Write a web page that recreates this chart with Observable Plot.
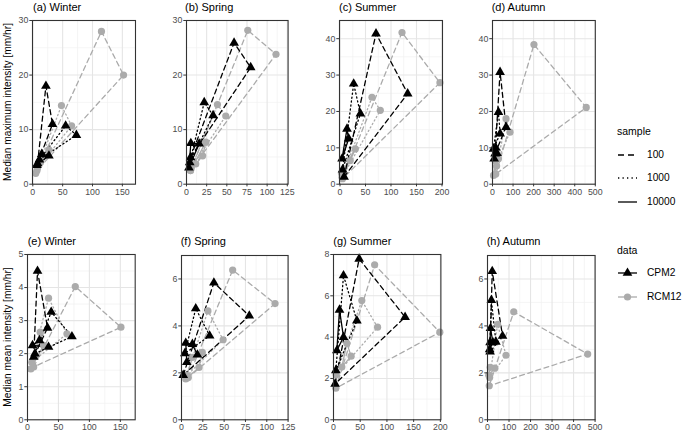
<!DOCTYPE html>
<html><head><meta charset="utf-8">
<script src="https://cdn.jsdelivr.net/npm/d3@7"></script>
<script src="https://cdn.jsdelivr.net/npm/@observablehq/plot@0.6"></script>
<style>
body{margin:0;background:#fff;}
#root{position:relative;width:685px;height:435px;font-family:"Liberation Sans",Arial,Helvetica,sans-serif;overflow:hidden;background:#fff;}
.ptitle{position:absolute;font-size:11px;color:#000;white-space:nowrap;line-height:11px;}
.ytitle{position:absolute;font-size:10.2px;color:#000;white-space:nowrap;line-height:10px;transform:translate(-50%,-50%) rotate(-90deg);}
.lg{position:absolute;white-space:nowrap;color:#000;}
svg.panel{position:absolute;overflow:visible;}
</style></head><body><div id="root"></div>
<script>
// ---- data: rows are [data, sample, x, y] ----
const winterMax = [
  ["CPM2",100,8,3.8],["CPM2",100,22,18],["CPM2",100,33,11],
  ["CPM2",1000,11,4.5],["CPM2",1000,55,10.7],["CPM2",1000,73,9],
  ["CPM2",10000,7,3.5],["CPM2",10000,15,5.5],["CPM2",10000,27,5.2],
  ["RCM12",100,7,2.5],["RCM12",100,115,28],["RCM12",100,152,20],
  ["RCM12",1000,8,3],["RCM12",1000,48,14.4],["RCM12",1000,65,10.7],
  ["RCM12",10000,5,2],["RCM12",10000,13,4],["RCM12",10000,27,6.3]
];
const springMax = [
  ["CPM2",100,5,4.9],["CPM2",100,59,25.9],["CPM2",100,79.6,21.4],
  ["CPM2",1000,4,4],["CPM2",1000,22,15],["CPM2",1000,33,12.6],
  ["CPM2",10000,3,3],["CPM2",10000,5.4,7.5],["CPM2",10000,15.7,7.4],
  ["RCM12",100,5,2.5],["RCM12",100,76,28.2],["RCM12",100,111,23.8],
  ["RCM12",1000,6,3],["RCM12",1000,38.4,14.6],["RCM12",1000,48.7,12.5],
  ["RCM12",10000,5,2.5],["RCM12",10000,24,7.7],["RCM12",10000,20,5.2],["RCM12",10000,11.5,3.7]
];
const summerMax = [
  ["CPM2",100,8,2],["CPM2",100,70.6,41.4],["CPM2",100,132.7,24.9],
  ["CPM2",1000,5,4],["CPM2",1000,26.8,27.6],["CPM2",1000,40,19.4],
  ["CPM2",10000,4,7],["CPM2",10000,13.7,15.2],["CPM2",10000,17,12.5],
  ["RCM12",100,5,1.5],["RCM12",100,121.6,41.7],["RCM12",100,196,27.9],
  ["RCM12",1000,4,1.9],["RCM12",1000,62.7,23.9],["RCM12",1000,79,20.3],
  ["RCM12",10000,3,3],["RCM12",10000,30,9.7],["RCM12",10000,20,6.5]
];
const autumnMax = [
  ["CPM2",100,12.6,8.4],["CPM2",100,36.8,30.8],["CPM2",100,66,15.7],
  ["CPM2",1000,4.8,9.7],["CPM2",1000,29,19.8],["CPM2",1000,37,13.9],
  ["CPM2",10000,8,7],["CPM2",10000,16,10],["CPM2",10000,22,8.5],
  ["RCM12",100,16,2.8],["RCM12",100,201.6,38.4],["RCM12",100,456,21.1],
  ["RCM12",1000,29,7],["RCM12",1000,66,18],["RCM12",1000,85,14.3],
  ["RCM12",10000,5,2.4],["RCM12",10000,12.6,6.5],["RCM12",10000,20,5]
];
const winterMean = [
  ["CPM2",100,10,1.9],["CPM2",100,16.2,4.5],["CPM2",100,32.4,2.78],
  ["CPM2",1000,12,2.0],["CPM2",1000,38.3,3.26],["CPM2",1000,71.8,2.52],
  ["CPM2",10000,8.1,2.25],["CPM2",10000,19.4,2.4],["CPM2",10000,34,2.2],
  ["RCM12",100,10,1.6],["RCM12",100,77.2,4.03],["RCM12",100,151,2.8],
  ["RCM12",1000,7,1.74],["RCM12",1000,34,3.68],["RCM12",1000,63.7,2.6],
  ["RCM12",10000,5.4,1.54],["RCM12",10000,20.5,2.65],["RCM12",10000,26,2.25]
];
const springMean = [
  ["CPM2",100,2,1.9],["CPM2",100,38,5.84],["CPM2",100,79.5,4.43],
  ["CPM2",1000,3.9,2.83],["CPM2",1000,16.7,4.74],["CPM2",1000,33,3.58],
  ["CPM2",10000,6.2,2.45],["CPM2",10000,5,3.27],["CPM2",10000,12.8,3.22],["CPM2",10000,18.6,2.77],
  ["RCM12",100,8,1.8],["RCM12",100,60,6.38],["RCM12",100,109.7,4.95],
  ["RCM12",1000,6,1.88],["RCM12",1000,31,4.64],["RCM12",1000,48.8,3.41],
  ["RCM12",10000,5,1.74],["RCM12",10000,12.8,2.66],["RCM12",10000,24.4,2.87],["RCM12",10000,20.5,2.23]
];
const summerMean = [
  ["CPM2",100,3,1.74],["CPM2",100,48,7.79],["CPM2",100,134,4.97],
  ["CPM2",1000,4.4,2.39],["CPM2",1000,18.75,6.98],["CPM2",1000,43.75,4.8],
  ["CPM2",10000,6.25,3.35],["CPM2",10000,11.25,5.32],["CPM2",10000,18.75,4.0],
  ["RCM12",100,4.4,1.53],["RCM12",100,77,7.5],["RCM12",100,199,4.24],
  ["RCM12",1000,5,2.18],["RCM12",1000,53,5.77],["RCM12",1000,82.5,4.48],
  ["RCM12",10000,15.6,2.55],["RCM12",10000,25,3.7],["RCM12",10000,33,3.08]
];
const autumnMean = [
  ["CPM2",100,12,2.9],["CPM2",100,22,6.33],["CPM2",100,70,3.57],
  ["CPM2",1000,12,3.3],["CPM2",1000,18,5.1],["CPM2",1000,39,3.32],
  ["CPM2",10000,10,3.0],["CPM2",10000,14,3.9],["CPM2",10000,25,3.3],
  ["RCM12",100,8,1.45],["RCM12",100,122,4.6],["RCM12",100,465.6,2.8],
  ["RCM12",1000,10,1.8],["RCM12",1000,47,4.07],["RCM12",1000,86,2.75],
  ["RCM12",10000,6,1.9],["RCM12",10000,12.5,2.23],["RCM12",10000,34,2.2]
];
const panelTitles = ["(a) Winter","(b) Spring","(c) Summer","(d) Autumn","(e) Winter","(f) Spring","(g) Summer","(h) Autumn"];
const yTitles = ["Median maximum intensity [mm/hr]","Median mean intensity [mm/hr]"];
const samples = [100, 1000, 10000];
const sources = ["CPM2", "RCM12"];
const sampleLabels = ["100","1000","10000"];
const xTicks150 = [0,50,100,150], xMinor150 = [25,75,125];
const xTicks125 = [0,25,50,75,100,125], xMinor125 = [12.5,37.5,62.5,87.5,112.5];
const xTicks200 = [0,50,100,150,200], xMinor200 = [25,75,125,175];
const xTicks500 = [0,100,200,300,400,500], xMinor500 = [50,150,250,350,450];
const yTicks30 = [0,10,20,30], yMinor30 = [5,15,25];
const yTicks40 = [0,10,20,30,40], yMinor40 = [5,15,25,35];
const yTicks5 = [0,1,2,3,4,5], yMinor5 = [0.5,1.5,2.5,3.5,4.5];
const yTicks6 = [0,2,4,6], yMinor6 = [1,3,5];
const yTicks8 = [0,2,4,6,8], yMinor8 = [1,3,5,7];

// ---- layout ----
const specs = [
  {rows:winterMax, x:[-0.5,172], xt:xTicks150, xm:xMinor150, y:[0,30], yt:yTicks30, ym:yMinor30, L:32, R:135, T:20, B:183.7},
  {rows:springMax, x:[0,126], xt:xTicks125, xm:xMinor125, y:[0,30], yt:yTicks30, ym:yMinor30, L:185.7, R:287.3, T:20, B:183.7},
  {rows:summerMax, x:[-1,201], xt:xTicks200, xm:xMinor200, y:[0,45], yt:yTicks40, ym:yMinor40, L:338.5, R:441.5, T:20, B:183.7},
  {rows:autumnMax, x:[0,500], xt:xTicks500, xm:xMinor500, y:[0,45], yt:yTicks40, ym:yMinor40, L:491.7, R:594.5, T:20, B:183.7},
  {rows:winterMean, x:[0,174], xt:xTicks150, xm:xMinor150, y:[0,5], yt:yTicks5, ym:yMinor5, L:27.3, R:135, T:254, B:419.3},
  {rows:springMean, x:[0,125], xt:xTicks125, xm:xMinor125, y:[0,7], yt:yTicks6, ym:yMinor6.concat([7]), L:180.7, R:287.3, T:255, B:419.3},
  {rows:summerMean, x:[0,201], xt:xTicks200, xm:xMinor200, y:[0,8], yt:yTicks8, ym:yMinor8, L:333.3, R:440.7, T:254, B:419.3},
  {rows:autumnMean, x:[0,500], xt:xTicks500, xm:xMinor500, y:[0,7], yt:yTicks6, ym:yMinor6.concat([7]), L:486.7, R:594.3, T:255, B:419.3}
];
const titlePos = [[33,1.5],[185,1.5],[339,1.5],[491.7,1.5],[27.7,236],[180.7,236],[333.3,236],[486.7,236]];

const GRAY = "#ababab";
const colorOf = {CPM2:"#000000", RCM12:GRAY};
const dashOf = {100:"5,3.5", 1000:"1.2,2.8", 10000:null};

const root = document.getElementById("root");

function drawPanel(s){
  const mL = 30, mR = 8, mT = 6, mB = 20;
  const w = (s.R - s.L) + mL + mR, h = (s.B - s.T) + mT + mB;
  const recs = s.rows.map(r => ({data:r[0], sample:r[1], x:r[2], y:r[3]}));
  const marks = [
    Plot.gridX(s.xm, {stroke:"#f1f1f1", strokeOpacity:1, strokeWidth:0.7}),
    Plot.gridY(s.ym, {stroke:"#f1f1f1", strokeOpacity:1, strokeWidth:0.7}),
    Plot.gridX(s.xt, {stroke:"#e5e5e5", strokeOpacity:1, strokeWidth:1.1}),
    Plot.gridY(s.yt, {stroke:"#e5e5e5", strokeOpacity:1, strokeWidth:1.1})
  ];
  for (const src of ["RCM12","CPM2"]) {
    for (const smp of samples) {
      const sub = recs.filter(d => d.data === src && d.sample === smp);
      const opt = {x:"x", y:"y", curve:"linear-closed", stroke:colorOf[src], strokeWidth:1.3};
      if (dashOf[smp]) opt.strokeDasharray = dashOf[smp];
      marks.push(Plot.line(sub, opt));
    }
  }
  marks.push(Plot.dot(recs.filter(d => d.data === "RCM12"), {x:"x", y:"y", r:3.6, fill:GRAY, stroke:"none", symbol:"circle"}));
  marks.push(Plot.dot(recs.filter(d => d.data === "CPM2"), {x:"x", y:"y", r:3.6, fill:"#000", stroke:"none", symbol:"triangle"}));
  marks.push(Plot.frame({stroke:"#333333", strokeWidth:1.1}));
  marks.push(Plot.axisX(s.xt, {tickSize:2.7, tickPadding:1.5, stroke:"#333333", fill:"#4d4d4d", fontSize:8.8, label:null}));
  marks.push(Plot.axisY(s.yt, {tickSize:2.7, tickPadding:1.5, stroke:"#333333", fill:"#4d4d4d", fontSize:8.8, label:null}));
  const svg = Plot.plot({
    width:w, height:h, marginLeft:mL, marginRight:mR, marginTop:mT, marginBottom:mB,
    x:{domain:s.x}, y:{domain:s.y},
    style:{fontFamily:'"Liberation Sans", Arial, sans-serif', fontSize:"8.8px", background:"transparent", color:"#4d4d4d"},
    marks
  });
  svg.classList.add("panel");
  svg.style.left = (s.L - mL) + "px";
  svg.style.top = (s.T - mT) + "px";
  root.appendChild(svg);
}
specs.forEach(drawPanel);

panelTitles.forEach((t, i) => {
  const d = document.createElement("div");
  d.className = "ptitle"; d.textContent = t;
  d.style.left = titlePos[i][0] + "px"; d.style.top = titlePos[i][1] + "px";
  root.appendChild(d);
});
[[7.5,101.8],[7.5,336.7]].forEach((p, i) => {
  const d = document.createElement("div");
  d.className = "ytitle"; d.textContent = yTitles[i];
  d.style.left = p[0] + "px"; d.style.top = p[1] + "px";
  root.appendChild(d);
});

// ---- legends ----
function addText(txt, x, yc, size){
  const d = document.createElement("div");
  d.className = "lg"; d.textContent = txt;
  d.style.left = x + "px"; d.style.top = (yc - size*0.6) + "px";
  d.style.fontSize = size + "px"; d.style.lineHeight = (size*1.2) + "px";
  root.appendChild(d);
}
function addKey(yc, stroke, dash, symbol){
  const ns = "http://www.w3.org/2000/svg";
  const svg = document.createElementNS(ns, "svg");
  svg.setAttribute("width", 24); svg.setAttribute("height", 14);
  svg.style.position = "absolute"; svg.style.left = "615px"; svg.style.top = (yc - 7) + "px";
  const ln = document.createElementNS(ns, "line");
  ln.setAttribute("x1", 3); ln.setAttribute("x2", 22); ln.setAttribute("y1", 7); ln.setAttribute("y2", 7);
  ln.setAttribute("stroke", stroke); ln.setAttribute("stroke-width", 1.3);
  if (dash) ln.setAttribute("stroke-dasharray", dash);
  svg.appendChild(ln);
  if (symbol) {
    const p = document.createElementNS(ns, "path");
    const sym = symbol === "triangle" ? d3.symbolTriangle : d3.symbolCircle;
    p.setAttribute("d", d3.symbol(sym, Math.PI * 3.6 * 3.6)());
    p.setAttribute("transform", "translate(12.5,7)");
    p.setAttribute("fill", stroke);
    svg.appendChild(p);
  }
  root.appendChild(svg);
}
addText("sample", 617, 131.7, 10.5);
const keyDash = {100:"6,4", 1000:"1.3,3.2", 10000:null};
samples.forEach((s, i) => {
  const yc = 155 + i * 23.35;
  addKey(yc, "#000", keyDash[s], null);
  addText(sampleLabels[i], 647, yc, 10.2);
});
addText("data", 617, 250, 10.5);
sources.forEach((src, i) => {
  const yc = 273.3 + i * 23.4;
  addKey(yc, colorOf[src], null, src === "CPM2" ? "triangle" : "circle");
  addText(src, 647, yc, 10.2);
});
</script></body></html>
